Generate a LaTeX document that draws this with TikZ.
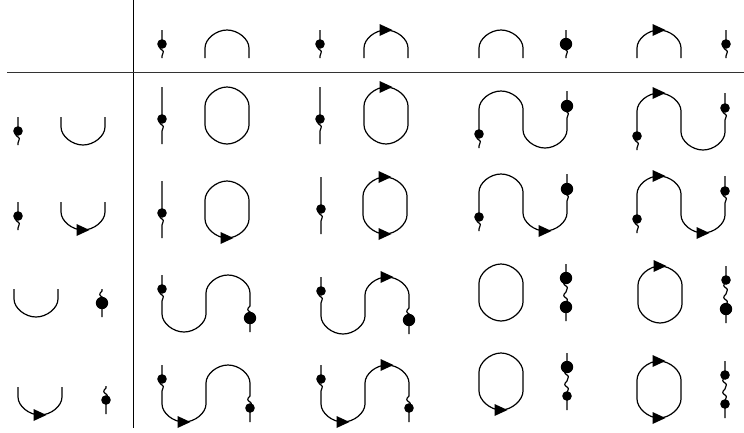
\documentclass[tikz,border=0pt]{standalone}
\newcommand{\wavy}{.. controls +(-3,3) and +(-3,-2) .. ++(0,6) .. controls +(3,2) and +(0,-3) .. ++(0,6)}
\tikzset{
  hump/.pic={\draw (0,0) -- (0,-10) .. controls (0,-19) and (11,-28) .. (22,-28)
    .. controls (33,-28) and (44,-19) .. (44,-10) -- (44,0);},
  bowl/.pic={\draw (0,0) -- (0,10) .. controls (0,19) and (11,28) .. (22,28)
    .. controls (33,28) and (44,19) .. (44,10) -- (44,0);},
  ring/.pic={\draw (0,19) .. controls (0,10) and (11,0) .. (22,0) .. controls (33,0) and (44,10) .. (44,19)
    -- (44,38) .. controls (44,47) and (33,57) .. (22,57) .. controls (11,57) and (0,47) .. (0,38) -- cycle;},
  tip/.pic={\fill (-6.5,-6) -- (6.5,0) -- (-6.5,6) -- cycle;},
  dotdown/.pic={\draw (0,0) -- (0,14) \wavy -- (0,28); \fill (0,14) circle[radius=#1];},
  dotup/.pic={\draw (0,0) -- (0,2) \wavy -- (0,28); \fill (0,14) circle[radius=#1];},
  dotlong/.pic={\draw (0,0) -- (0,32) \wavy -- (0,57); \fill (0,32) circle[radius=#1];},
  pics/dotpair/.style 2 args={code={
    \draw (0,0) -- (0,16) \wavy \wavy -- (0,57);
    \fill (0,14) circle[radius=#1]; \fill (0,43) circle[radius=#2];}},
  pics/rise/.style 2 args={code={
    \draw (88,0) -- (88,15) \wavy -- (88,39) .. controls (88,48) and (77,57) .. (66,57)
      .. controls (55,57) and (44,48) .. (44,39) -- (44,18) .. controls (44,9) and (33,0) .. (22,0)
      .. controls (11,0) and (0,9) .. (0,18) -- (0,43) \wavy -- (0,57);
    \fill (0,43) circle[radius=#1]; \fill (88,15) circle[radius=#2];}},
  pics/fall/.style 2 args={code={
    \draw (0,0) -- (0,14) \wavy -- (0,39) .. controls (0,48) and (11,57) .. (22,57)
      .. controls (33,57) and (44,48) .. (44,39) -- (44,18) .. controls (44,9) and (55,0) .. (66,0)
      .. controls (77,0) and (88,9) .. (88,18) -- (88,31) \wavy -- (88,57);
    \fill (0,14) circle[radius=#1]; \fill (88,43) circle[radius=#2];}},
}
\begin{document}
\begin{tikzpicture}[x=1pt,y=-1pt,line width=1.2pt]
    \useasboundingbox (0,0) rectangle (744,432);
    %% table rules
    \draw[line width=1pt] (133,0) -- (133,428);
    \draw[line width=0.9pt,black!80] (7,72) -- (744,72);
    %% top row
    \pic at (162,30) {dotdown=4.8}; \pic at (205,58) {hump};
    \pic at (320,30) {dotdown=4.8}; \pic at (364,58) {hump}; \pic at (386,30) {tip};
    \pic at (479,58) {hump}; \pic at (566,30) {dotdown=6.2};
    \pic at (637,58) {hump}; \pic at (659,30) {tip}; \pic at (726,30) {dotdown=4.8};
    %% left column
    \pic at (18,117) {dotdown=4.8}; \pic at (61,117) {bowl};
    \pic at (18,202) {dotdown=4.8}; \pic at (61,202) {bowl}; \pic at (83,230) {tip};
    \pic at (14,289) {bowl}; \pic at (102,289) {dotup=6.2};
    \pic at (18,387) {bowl}; \pic at (40,415) {tip}; \pic at (106,386) {dotup=4.8};
    %% row 1
    \pic at (162,87) {dotlong=4.8}; \pic at (205,87) {ring};
    \pic at (320,87) {dotlong=4.8}; \pic at (364,87) {ring}; \pic at (386,87) {tip};
    \pic at (479,91) {rise={4.8}{6.2}};
    \pic at (637,93) {rise={4.8}{4.8}}; \pic at (659,93) {tip};
    %% row 2
    \pic at (162,181) {dotlong=4.8}; \pic at (205,181) {ring}; \pic at (227,238) {tip};
    \pic at (321,177) {dotlong=4.8}; \pic at (363,177) {ring};
    \pic at (385,177) {tip}; \pic at (385,234) {tip};
    \pic at (479,174) {rise={4.8}{6.2}}; \pic at (545,231) {tip};
    \pic at (637,176) {rise={4.8}{4.8}}; \pic at (659,176) {tip}; \pic at (703,233) {tip};
    %% row 3
    \pic at (162,275) {fall={4.8}{6.2}};
    \pic at (321,277) {fall={4.8}{6.2}}; \pic at (387,277) {tip};
    \pic at (479,264) {ring}; \pic at (566,264) {dotpair={6.2}{6.2}};
    \pic at (638,266) {ring}; \pic at (660,266) {tip}; \pic at (726,266) {dotpair={4.8}{6.2}};
    %% row 4
    \pic at (162,365) {fall={4.8}{4.8}}; \pic at (184,422) {tip};
    \pic at (321,365) {fall={4.8}{4.8}}; \pic at (343,422) {tip}; \pic at (387,365) {tip};
    \pic at (479,353) {ring}; \pic at (501,410) {tip}; \pic at (567,353) {dotpair={6.2}{4.8}};
    \pic at (637,361) {ring}; \pic at (659,361) {tip}; \pic at (659,418) {tip};
    \pic at (725,361) {dotpair={4.8}{4.8}};
\end{tikzpicture}
\end{document}
